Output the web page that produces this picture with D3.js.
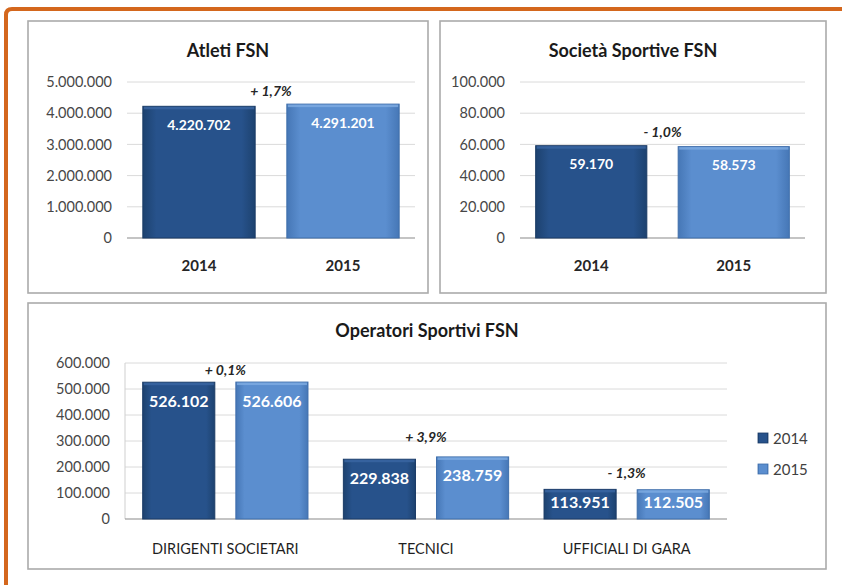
<!DOCTYPE html>
<html>
<head>
<meta charset="utf-8">
<script src="https://cdn.jsdelivr.net/npm/d3@7"></script>
<style>
  html, body { margin: 0; padding: 0; background: #fff; }
  text { font-family: Lato, "Open Sans", sans-serif; }
</style>
</head>
<body>
<div id="chart"></div>
<script>
// data
const years = ["2014", "2015"];
const atleti = [4220702, 4291201];
const societa = [59170, 58573];
const operatoriCats = ["DIRIGENTI SOCIETARI", "TECNICI", "UFFICIALI DI GARA"];
const operatori2014 = [526102, 229838, 113951];
const operatori2015 = [526606, 238759, 112505];
const atletiChange = "+ 1,7%";
const societaChange = "- 1,0%";
const operatoriChange = ["+ 0,1%", "+ 3,9%", "- 1,3%"];

const width = 842, height = 585;
const fmt = d3.formatLocale({decimal: ",", thousands: ".", grouping: [3], currency: ["", "€"]}).format(",d");

const svg = d3.select("#chart").append("svg")
    .attr("width", width)
    .attr("height", height);

svg.append("rect").attr("width", width).attr("height", height).attr("fill", "#fff");

// gradients for the bars
const defs = svg.append("defs");
function barGradient(id, edge, mid) {
    const g = defs.append("linearGradient").attr("id", id).attr("x1", 0).attr("x2", 1).attr("y1", 0).attr("y2", 0);
    g.append("stop").attr("offset", "0%").attr("stop-color", edge);
    g.append("stop").attr("offset", "12%").attr("stop-color", mid);
    g.append("stop").attr("offset", "88%").attr("stop-color", mid);
    g.append("stop").attr("offset", "100%").attr("stop-color", edge);
}
barGradient("gDark", "#1d426f", "#27528b");
barGradient("gLight", "#4677b6", "#5b8ecf");
const fills = ["url(#gDark)", "url(#gLight)"];
const strokes = ["#1a3b66", "#3f6eab"];
const bevels = ["#3b67a3", "#80ace2"];

// orange frame
svg.append("path")
    .attr("d", "M6,585 V15 Q6,9 12,9 H842")
    .attr("fill", "none")
    .attr("stroke", "#d4671d")
    .attr("stroke-width", 4);

function panelBox(x0, y0, x1, y1, title, titleY, titleSize) {
    svg.append("rect")
        .attr("x", x0).attr("y", y0)
        .attr("width", x1 - x0).attr("height", y1 - y0)
        .attr("fill", "#fff")
        .attr("stroke", "#ababab")
        .attr("stroke-width", 1.6);
    svg.append("text")
        .attr("x", (x0 + x1) / 2).attr("y", titleY)
        .attr("text-anchor", "middle")
        .attr("dominant-baseline", "central")
        .attr("font-size", titleSize)
        .attr("font-weight", "bold")
        .attr("fill", "#1a1a1a")
        .text(title);
}

function yAxisGrid(g, y, left, right, ticks, showLeftLine) {
    g.append("g")
        .selectAll("line")
        .data(ticks.filter(d => d > 0))
        .join("line")
        .attr("x1", left).attr("x2", right)
        .attr("y1", d => y(d)).attr("y2", d => y(d))
        .attr("stroke", "#dadada");
    const ax = g.append("g")
        .attr("transform", `translate(${left - 15},0)`)
        .call(d3.axisLeft(y).tickValues(ticks).tickFormat(fmt).tickSize(0).tickPadding(0));
    ax.select(".domain").remove();
    ax.selectAll("text")
        .attr("font-size", 14.5)
        .attr("fill", "#474747")
        .style("font-family", "Lato, sans-serif");
    if (showLeftLine) {
        g.append("line")
            .attr("x1", left).attr("x2", left)
            .attr("y1", y.range()[1]).attr("y2", y.range()[0])
            .attr("stroke", "#cfcfcf");
    }
    g.append("line")
        .attr("x1", left).attr("x2", right)
        .attr("y1", y(0)).attr("y2", y(0))
        .attr("stroke", "#8a8a8a")
        .attr("stroke-width", 1.2);
}

function drawBar(g, x, w, y, v, series, labelSize) {
    const top = y(v), bottom = y(0);
    g.append("rect")
        .attr("x", x).attr("y", top)
        .attr("width", w).attr("height", bottom - top)
        .attr("fill", fills[series])
        .attr("stroke", strokes[series])
        .attr("stroke-width", 1);
    g.append("rect")
        .attr("x", x + 1).attr("y", top + 0.5)
        .attr("width", w - 2).attr("height", 2.5)
        .attr("fill", bevels[series])
        .attr("opacity", 0.8);
    const cy = Math.min(top + 18, (top + bottom) / 2 - 3);
    g.append("text")
        .attr("x", x + w / 2).attr("y", cy)
        .attr("text-anchor", "middle")
        .attr("dominant-baseline", "central")
        .attr("font-size", labelSize)
        .attr("font-weight", "bold")
        .attr("fill", "#fff")
        .text(fmt(v));
}

function changeLabel(g, x, yPos, txt) {
    g.append("text")
        .attr("x", x).attr("y", yPos)
        .attr("text-anchor", "middle")
        .attr("dominant-baseline", "central")
        .attr("font-size", 14)
        .attr("font-weight", "bold")
        .attr("font-style", "italic")
        .attr("fill", "#262626")
        .text(txt);
}

// two-bar panel (Atleti / Società)
function simplePanel(box, plot, title, values, maxV, tickStep, change) {
    panelBox(box[0], box[1], box[2], box[3], title, 50, 18);
    const g = svg.append("g");
    const x = d3.scaleBand().domain(years).range([plot[0], plot[2]]).padding(0);
    const y = d3.scaleLinear().domain([0, maxV]).range([plot[3], plot[1]]);
    yAxisGrid(g, y, plot[0], plot[2], d3.range(0, maxV + 1, tickStep), false);
    const bw = x.bandwidth() * 0.78;
    values.forEach((v, i) => {
        const cx = x(years[i]) + x.bandwidth() / 2;
        drawBar(g, cx - bw / 2, bw, y, v, i, 14);
    });
    g.selectAll(".cat")
        .data(years)
        .join("text")
        .attr("x", d => x(d) + x.bandwidth() / 2)
        .attr("y", 265)
        .attr("text-anchor", "middle")
        .attr("dominant-baseline", "central")
        .attr("font-size", 15)
        .attr("font-weight", "bold")
        .attr("fill", "#262626")
        .text(d => d);
    changeLabel(g, (plot[0] + plot[2]) / 2, y(d3.max(values)) - 14, change);
}

simplePanel([28, 21, 428, 293], [127, 82, 415, 238], "Atleti FSN", atleti, 5000000, 1000000, atletiChange);
simplePanel([440, 21, 826, 293], [520, 82, 805, 238], "Società Sportive FSN", societa, 100000, 20000, societaChange);

// grouped panel (Operatori)
panelBox(28, 303, 826, 569, "Operatori Sportivi FSN", 330, 18);
const g3 = svg.append("g");
const x0 = d3.scaleBand().domain(operatoriCats).range([125, 727]).paddingInner(0).paddingOuter(0);
const x1 = d3.scaleBand().domain(years).range([0, x0.bandwidth()]).paddingInner(0.226).paddingOuter(0.19);
const y3 = d3.scaleLinear().domain([0, 600000]).range([519, 363]);
yAxisGrid(g3, y3, 125, 727, d3.range(0, 600001, 100000), true);
const seriesVals = [operatori2014, operatori2015];
operatoriCats.forEach((c, i) => {
    years.forEach((yr, s) => {
        drawBar(g3, x0(c) + x1(yr), x1.bandwidth(), y3, seriesVals[s][i], s, 16);
    });
});
const changeLift = [13, 20, 17];
operatoriCats.forEach((c, i) => {
    const top = y3(Math.max(operatori2014[i], operatori2015[i]));
    changeLabel(g3, x0(c) + x0.bandwidth() / 2, top - changeLift[i], operatoriChange[i]);
});
g3.selectAll(".cat")
    .data(operatoriCats)
    .join("text")
    .attr("x", d => x0(d) + x0.bandwidth() / 2)
    .attr("y", 548)
    .attr("text-anchor", "middle")
    .attr("dominant-baseline", "central")
    .attr("font-size", 14.5)
    .attr("fill", "#1f1f1f")
    .text(d => d);

// legend
const legend = svg.append("g");
years.forEach((yr, s) => {
    const ly = 438 + s * 31;
    legend.append("rect")
        .attr("x", 758).attr("y", ly - 5)
        .attr("width", 10).attr("height", 10)
        .attr("fill", fills[s])
        .attr("stroke", strokes[s])
        .attr("stroke-width", 0.8);
    legend.append("text")
        .attr("x", 773).attr("y", ly)
        .attr("dominant-baseline", "central")
        .attr("font-size", 15)
        .attr("fill", "#404040")
        .text(yr);
});
</script>
</body>
</html>
